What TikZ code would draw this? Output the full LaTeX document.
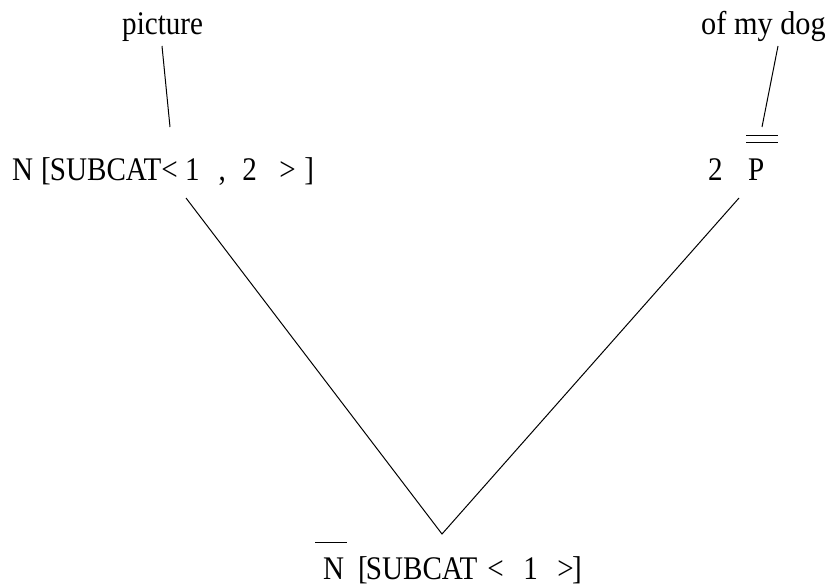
\documentclass[tikz,border=0pt]{standalone}
\usepackage{fontspec}
\setmainfont{Liberation Serif}
\newcommand{\stretchtxt}[1]{\scalebox{0.97}[1.1]{#1}}
\begin{document}
\begin{tikzpicture}[x=1pt,y=-1pt,
  lbl/.style={inner sep=0pt, anchor=base west, font=\fontsize{30}{36}\selectfont},
  ln/.style={line width=1pt}]
\useasboundingbox (0,0) rectangle (827,586);
% texts
\node[lbl] (pic) at (122,35) {\stretchtxt{picture}};
\node[lbl] (dog) at (701,35) {\scalebox{1.01}[1.1]{of my dog}};
\node[lbl] (head) at (12,180) {\stretchtxt{N\hspace{8.2pt}[\kern-1pt SUBCAT<\hspace{7.5pt}1\hspace{19.5pt},\hspace{17pt}2\hspace{23.2pt}>\hspace{8.9pt}]}};
\node[lbl] (two) at (708,180) {\stretchtxt{2}};
\node[lbl] (pp) at (748,180) {\stretchtxt{P}};
\node[lbl] (mother) at (323,579) {\stretchtxt{N\hspace{14.4pt}[\kern-2pt SUBCAT\hspace{10.3pt}<\hspace{20.1pt}1\hspace{20.1pt}>\hspace{-1.7pt}]}};
% endpoints
\coordinate (picT) at (162,46);
\coordinate (picB) at (170,127);
\coordinate (dogT) at (778,46);
\coordinate (dogB) at (762,127);
\coordinate (headB) at (186,198);
\coordinate (ppB) at (739,198);
\coordinate (motherT) at (442,534);
% connectors
\draw[ln] (picT) -- (picB);
\draw[ln] (dogT) -- (dogB);
\draw[ln] (headB) -- (motherT) -- (ppB);
% bars
\draw[ln] (746,135) -- (778,135);
\draw[ln] (746,142) -- (778,142);
\draw[ln] (315,542) -- (347,542);
\end{tikzpicture}
\end{document}
